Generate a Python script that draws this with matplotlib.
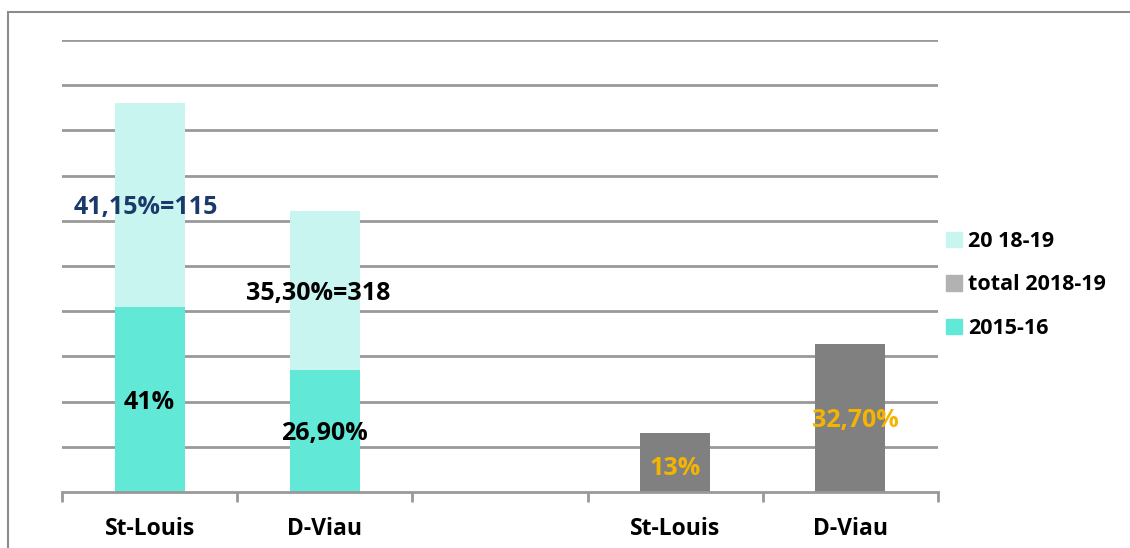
import matplotlib
matplotlib.use("Agg")
import matplotlib.pyplot as plt
import numpy as np
from matplotlib.patches import Rectangle, Patch

plt.rcParams['font.family'] = ['Open Sans', 'DejaVu Sans']

categories = ["St-Louis", "D-Viau", "", "St-Louis", "D-Viau"]
s2015 = [41.0, 26.9, np.nan, np.nan, np.nan]
s2018 = [45.0, 35.3, np.nan, np.nan, np.nan]
total2018 = [np.nan, np.nan, np.nan, 13.0, 32.7]
labels2015 = ["41%", "26,90%", "", "", ""]
labels2018 = ["41,15%=115", "35,30%=318", "", "", ""]
labels_total = ["", "", "", "13%", "32,70%"]
legend_names = ["20 18-19", "total 2018-19", "2015-16"]

c2015 = "#61E8D6"
c2018 = "#C8F5EF"
cgray = "#808080"
cgray_leg = "#B2B2B2"
corange = "#F5B400"
cnavy = "#1B3A6B"

W, H = 1130, 548
fig = plt.figure(figsize=(W/100, H/100), dpi=100)
fig.patches.append(Rectangle((8/W, -0.1), 1.2, 1 - 12/H + 0.1, transform=fig.transFigure,
                             fill=False, edgecolor="#8C8C8C", linewidth=1.5))
ax = fig.add_axes([62/W, 1 - 492/H, (938-62)/W, (492-40)/H])

x = np.arange(len(categories))
bw = 0.4
ax.bar(x, s2015, width=bw, color=c2015, zorder=3)
ax.bar(x, s2018, width=bw, bottom=s2015, color=c2018, zorder=3)
ax.bar(x, total2018, width=bw, color=cgray, zorder=3)

ax.set_xlim(-0.5, len(categories) - 0.5)
ax.set_ylim(0, 100)
ax.set_yticks(np.arange(10, 101, 10))
ax.yaxis.grid(True, color="#999999", linewidth=2, zorder=0)
ax.tick_params(axis='y', length=0, labelleft=False)
for s in ["left", "right", "top"]:
    ax.spines[s].set_visible(False)
ax.spines["bottom"].set_color("#999999")
ax.spines["bottom"].set_linewidth(2)
ax.spines["bottom"].set_zorder(4)

ax.set_xticks(x)
ax.set_xticklabels(categories, fontsize=16.5, fontweight="bold")
ax.tick_params(axis='x', which='major', length=0, pad=18)
ax.set_xticks(np.arange(-0.5, len(categories), 1), minor=True)
ax.tick_params(axis='x', which='minor', length=7, width=2, color="#999999", direction="out")

fs = 18
dy = -0.6
for i in range(len(categories)):
    if labels2015[i]:
        ax.text(x[i], s2015[i] / 2 + dy, labels2015[i], ha="center", va="center",
                fontsize=fs, fontweight="bold", color="black", zorder=5)
    if labels2018[i]:
        col = cnavy if i == 0 else "black"
        dx = -0.02 if i == 0 else -0.04
        ax.text(x[i] + dx, s2015[i] + s2018[i] / 2 + dy, labels2018[i], ha="center", va="center",
                fontsize=fs, fontweight="bold", color=col, zorder=5)
    if labels_total[i]:
        yv = total2018[i] / 2 - (0.7 if i == 3 else 0) + dy
        ax.text(x[i] + (0.03 if i == 4 else 0), yv, labels_total[i], ha="center", va="center",
                fontsize=fs, fontweight="bold", color=corange, zorder=5)

handles = [Patch(color=c2018), Patch(color=cgray_leg), Patch(color=c2015)]
leg = fig.legend(handles, legend_names, loc="center left", bbox_to_anchor=(937/W, 1 - 285/H),
                 frameon=False, prop={"size": 15.5, "weight": "bold"},
                 handlelength=0.75, handleheight=0.75, handletextpad=0.3, labelspacing=1.05,
                 borderaxespad=0)

fig.savefig("out.png", dpi=100)
